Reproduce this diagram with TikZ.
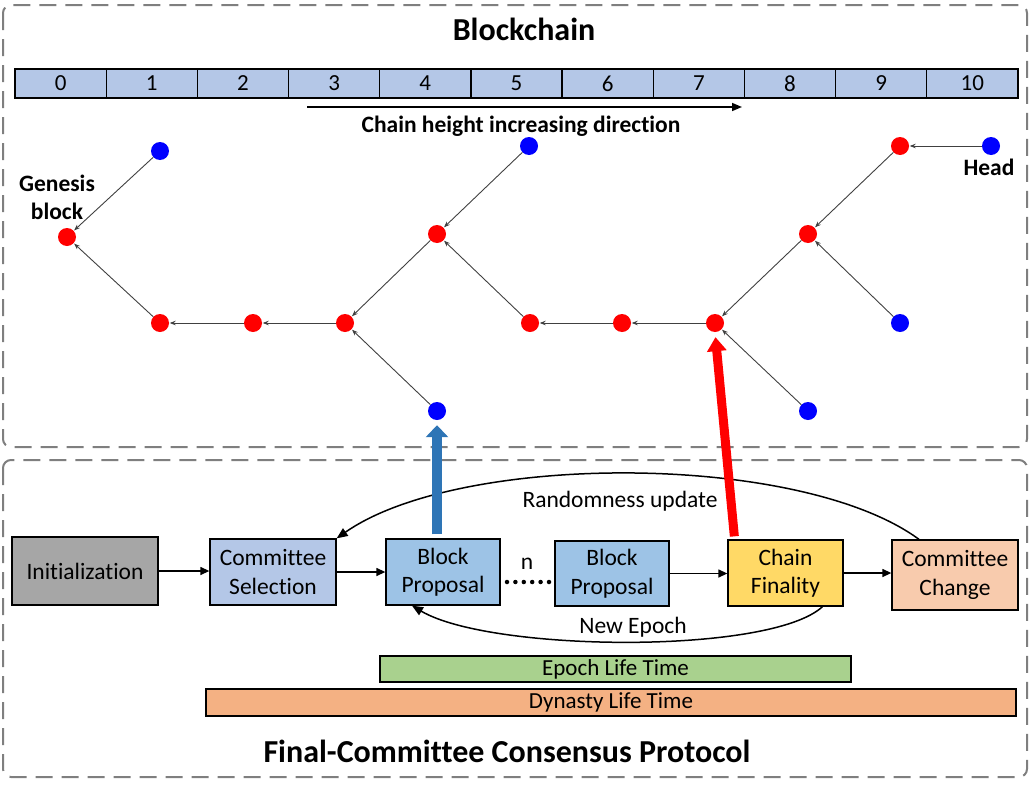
\documentclass[tikz,border=0pt]{standalone}
\usepackage{fontspec}
\setmainfont{Carlito}[Ligatures=NoCommon]
\usetikzlibrary{arrows.meta,calc}
\definecolor{frameC}{HTML}{7F7F7F}
\definecolor{rulerC}{HTML}{B4C7E7}
\definecolor{initC}{HTML}{A6A6A6}
\definecolor{csC}{HTML}{B4C7E7}
\definecolor{bpC}{HTML}{9DC3E6}
\definecolor{cfC}{HTML}{FFD966}
\definecolor{ccC}{HTML}{F8CBAD}
\definecolor{epC}{HTML}{A9D18E}
\definecolor{dyC}{HTML}{F4B183}
\definecolor{bigblue}{HTML}{2E75B6}
\definecolor{edgeC}{HTML}{404040}
\begin{document}
\begin{tikzpicture}[x=1pt,y=-1pt,
  frame/.style={draw=frameC,line width=2pt,dash pattern=on 17pt off 9pt,rounded corners=8pt},
  cell/.style={draw=black,line width=1.3pt,fill=rulerC,minimum width=91.18pt,minimum height=29pt,inner sep=0pt,font=\fontsize{23}{26}\selectfont},
  rdot/.style={circle,fill=red,minimum size=18pt,inner sep=0pt},
  bdot/.style={circle,fill=blue,minimum size=18pt,inner sep=0pt},
  edge/.style={draw=edgeC,line width=0.9pt,-{Stealth[length=6pt,width=4.5pt]},shorten >=0.5pt},
  proc/.style={draw=black,line width=1.3pt,align=center,inner sep=0pt,font=\fontsize{23.5}{28.5}\selectfont},
  flow/.style={draw=black,line width=1.3pt,-{Triangle[length=9pt,width=8pt]}},
  bar/.style={draw=black,line width=1.3pt,inner sep=0pt,font=\fontsize{23}{24}\selectfont},
  lbl/.style={font=\fontsize{23.5}{28}\selectfont},
  blbl/.style={font=\bfseries\fontsize{23.5}{28}\selectfont,align=center}
]
\useasboundingbox (0,0) rectangle (1031,787);
% frames
\draw[frame] (3,5) rectangle (1027,447);
\draw[frame] (3,460) rectangle (1027,777);
% title
\node[font=\bfseries\fontsize{32}{36}\selectfont] (title) at (524,29) {Blockchain};
% ruler
\foreach \i in {0,...,10}{
  \node[cell] (c\i) at ({15+91.18*(\i+0.5)},83.5) {\i};
}
\coordinate (dirS) at (307,107);
\coordinate (dirE) at (742,107);
\draw[line width=1.5pt,-{Triangle[length=10pt,width=8pt]}] (dirS) -- (dirE);
\node[blbl] (dirlbl) at (521,126) {Chain height increasing direction};
% dots
\node[bdot] (b1) at (160,151) {};
\node[rdot] (g) at (67,237) {};
\node[rdot] (r1) at (160,323) {};
\node[rdot] (r2) at (253,323) {};
\node[rdot] (r3) at (345,323) {};
\node[rdot] (r4) at (437,234) {};
\node[bdot] (b2) at (437,411) {};
\node[bdot] (b3) at (529,146) {};
\node[rdot] (r5) at (530,323) {};
\node[rdot] (r6) at (622,323) {};
\node[rdot] (r7) at (715,323) {};
\node[rdot] (r8) at (808,234) {};
\node[bdot] (b4) at (808,411) {};
\node[rdot] (r9) at (900,146) {};
\node[bdot] (b5) at (900,323) {};
\node[bdot] (b6) at (991,146) {};
\draw[edge] (b1) -- (g);
\draw[edge] (r1) -- (g);
\draw[edge] (r2) -- (r1);
\draw[edge] (r3) -- (r2);
\draw[edge] (r4) -- (r3);
\draw[edge] (b2) -- (r3);
\draw[edge] (b3) -- (r4);
\draw[edge] (r5) -- (r4);
\draw[edge] (r6) -- (r5);
\draw[edge] (r7) -- (r6);
\draw[edge] (r8) -- (r7);
\draw[edge] (b4) -- (r7);
\draw[edge] (r9) -- (r8);
\draw[edge] (b5) -- (r8);
\draw[edge] (b6) -- (r9);
\node[blbl] (gen) at (57,197) {Genesis\\block};
\node[blbl] (head) at (989,167) {Head};
% process boxes
\node[proc,fill=initC,minimum width=146pt,minimum height=68pt] (init) at (85,571) {Initialization};
\node[proc,fill=csC,minimum width=126pt,minimum height=66pt] (cs) at (273,572) {Committee\\Selection};
\node[proc,fill=bpC,minimum width=114pt,minimum height=66pt] (bp1) at (443,572) {Block\\Proposal};
\node[proc,fill=bpC,minimum width=114pt,minimum height=65pt] (bp2) at (612,573.5) {Block\\Proposal};
\node[proc,fill=cfC,minimum width=115pt,minimum height=66pt] (cf) at (785.5,573) {Chain\\Finality};
\node[proc,fill=ccC,minimum width=126pt,minimum height=70pt] (cc) at (955,575) {Committee\\Change};
\node[lbl,inner sep=0pt] (nlbl) at (527,564) {n};
\coordinate (dotS) at (507,582);
\coordinate (dotE) at (549,582);
\draw[line width=4.5pt,line cap=round,dash pattern=on 0pt off 8.4pt] (dotS) -- (dotE);
\draw[flow] (init.east) -- (init.east -| cs.west);
\draw[flow] (cs.east) -- (cs.east -| bp1.west);
\draw[flow] (bp2.east) -- (bp2.east -| cf.west);
\draw[flow] (cf.east) -- (cf.east -| cc.west);
% loops
\coordinate (ruS) at ([xshift=-36pt]cc.north);
\draw[line width=1.5pt,-{Triangle[length=11pt,width=9pt]}] (ruS) .. controls (800,452) and (460,452) .. (cs.north east);
\node[lbl] (rulbl) at (620,501) {Randomness update};
\coordinate (neS) at ([xshift=37pt]cf.south);
\coordinate (neE) at ([xshift=-31pt]bp1.south);
\draw[line width=1.5pt,-{Triangle[length=11pt,width=9pt]}] (neS) .. controls (770,655) and (490,652) .. (neE);
\node[lbl] (nelbl) at (633,627) {New Epoch};
% big arrows
\draw[line width=10pt,draw=bigblue,-{Triangle[length=12pt,width=22pt]},shorten <=4pt,shorten >=5pt] (bp1.north -| b2) -- (b2.south);
\coordinate (redS) at ([xshift=7pt,yshift=3pt]cf.north west);
\draw[line width=9pt,draw=red,-{Triangle[length=14pt,width=19pt]},shorten >=5pt] (redS) -- (r7.south);
% bars
\node[bar,fill=epC,minimum width=471pt,minimum height=26pt] (ep) at (615.5,669) {Epoch Life Time};
\node[bar,fill=dyC,minimum width=810pt,minimum height=27pt] (dy) at (611,702.5) {Dynasty Life Time};
\node[font=\bfseries\fontsize{32}{36}\selectfont] (ftitle) at (507,751) {Final-Committee Consensus Protocol};
\end{tikzpicture}
\end{document}
